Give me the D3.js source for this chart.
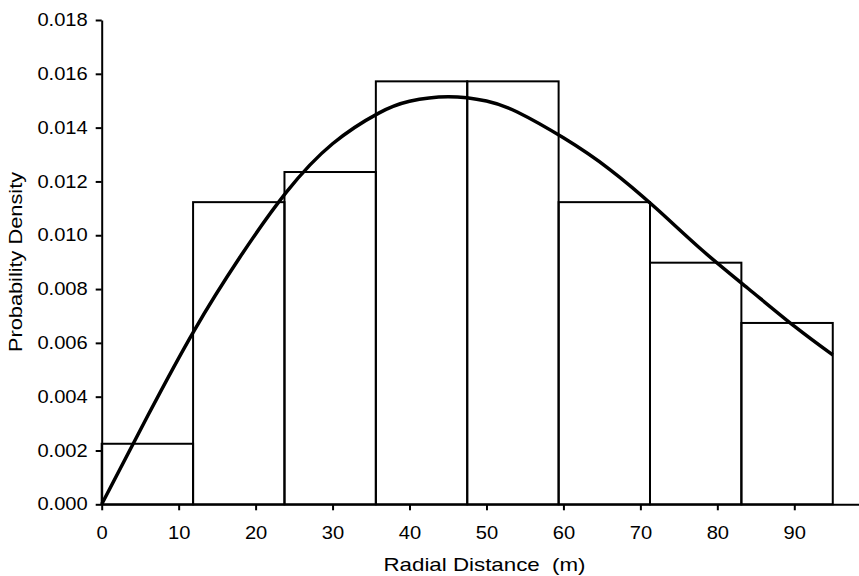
<!DOCTYPE html>
<html>
<head>
<meta charset="utf-8">
<script src="https://cdn.jsdelivr.net/npm/d3@7"></script>
<style>
  body { margin: 0; background: #fff; }
  text { font-family: Arial, 'Liberation Sans', sans-serif; fill: #000; }
</style>
</head>
<body>
<div id="chart"></div>
<script>
// Histogram bins (radial distance, m) and their probability densities
var binEdges = [0, 11.875, 23.75, 35.625, 47.5, 59.375, 71.25, 83.125, 95];
var binDensity = [0.00225, 0.01123, 0.01235, 0.01572, 0.01572, 0.01123, 0.00898, 0.00674];

// Fitted density curve
var curveX = [0, 6, 12, 18, 24, 30, 36, 40, 45, 50, 54, 60, 66, 72, 78, 84, 90, 95];
var curveY = [0, 0.0033, 0.00645, 0.0092, 0.0116, 0.0134, 0.01454, 0.01498, 0.01515,
    0.01499, 0.01458, 0.01362, 0.01245, 0.01101, 0.00945, 0.00802, 0.00662, 0.00555];

// Axis ticks
var xTicks = [0, 10, 20, 30, 40, 50, 60, 70, 80, 90];
var yTicks = [0, 0.002, 0.004, 0.006, 0.008, 0.010, 0.012, 0.014, 0.016, 0.018];

var fullWidth = 859;
var fullHeight = 576;

var svg = d3.select('#chart').append('svg')
    .attr('width', fullWidth)
    .attr('height', fullHeight);

// x axis runs past the right edge of the picture
var xScale = d3.scaleLinear()
    .domain([0, 98.5])
    .range([101.7, 859.7]);

var yScale = d3.scaleLinear()
    .domain([0, 0.018])
    .range([504.3, 20]);

// the original text is a bit wider than plain Arial, so stretch it sideways
function stretch(sel, s) {
    sel.attr('transform', function () {
        var x = +this.getAttribute('x') || 0;
        return 'translate(' + x + ',0) scale(' + s + ',1) translate(' + (-x) + ',0)';
    });
}

// Bars
svg.append('g')
    .classed('bar-holder', true)
    .selectAll('rect.bar')
    .data(binDensity)
    .enter()
    .append('rect')
    .classed('bar', true)
    .attr('x', function (d, i) { return xScale(binEdges[i]); })
    .attr('width', function (d, i) { return xScale(binEdges[i + 1]) - xScale(binEdges[i]); })
    .attr('y', function (d) { return yScale(d); })
    .attr('height', function (d) { return yScale(0) - yScale(d); })
    .style('fill', 'none')
    .style('stroke', '#000')
    .style('stroke-width', 2);

// Axes
var xAxis = d3.axisBottom(xScale)
    .tickValues(xTicks)
    .tickFormat(d3.format('d'))
    .tickSize(6)
    .tickSizeOuter(0)
    .tickPadding(16.5);

var yAxis = d3.axisLeft(yScale)
    .tickValues(yTicks)
    .tickFormat(d3.format('.3f'))
    .tickSize(6)
    .tickSizeOuter(0)
    .tickPadding(8);

var xAxisEle = svg.append('g')
    .classed('x axis', true)
    .attr('transform', 'translate(0,' + yScale(0) + ')')
    .call(xAxis);

var yAxisEle = svg.append('g')
    .classed('y axis', true)
    .attr('transform', 'translate(' + xScale(0) + ',0)')
    .call(yAxis);

svg.selectAll('.axis path, .axis line')
    .style('stroke', '#000')
    .style('stroke-width', 2);

svg.selectAll('.axis text')
    .style('font-family', "Arial, 'Liberation Sans', sans-serif")
    .style('font-size', '17.5px')
    .style('fill', '#000');

stretch(svg.selectAll('.axis text'), 1.15);

// Fitted curve
var line = d3.line()
    .x(function (d) { return xScale(d); })
    .y(function (d, i) { return yScale(curveY[i]); })
    .curve(d3.curveNatural);

svg.append('path')
    .datum(curveX)
    .attr('d', line)
    .style('fill', 'none')
    .style('stroke', '#000')
    .style('stroke-width', 3.5)
    .style('stroke-linejoin', 'round');

// Axis titles
svg.append('text')
    .attr('transform', 'translate(484.5,571) scale(1.2,1)')
    .style('text-anchor', 'middle')
    .style('font-size', '18.6px')
    .text('Radial Distance\u00a0\u00a0(m)');

svg.append('text')
    .attr('transform', 'translate(21.5,262) rotate(-90) scale(1.17,1)')
    .style('text-anchor', 'middle')
    .style('font-size', '18.6px')
    .text('Probability Density');
</script>
</body>
</html>
